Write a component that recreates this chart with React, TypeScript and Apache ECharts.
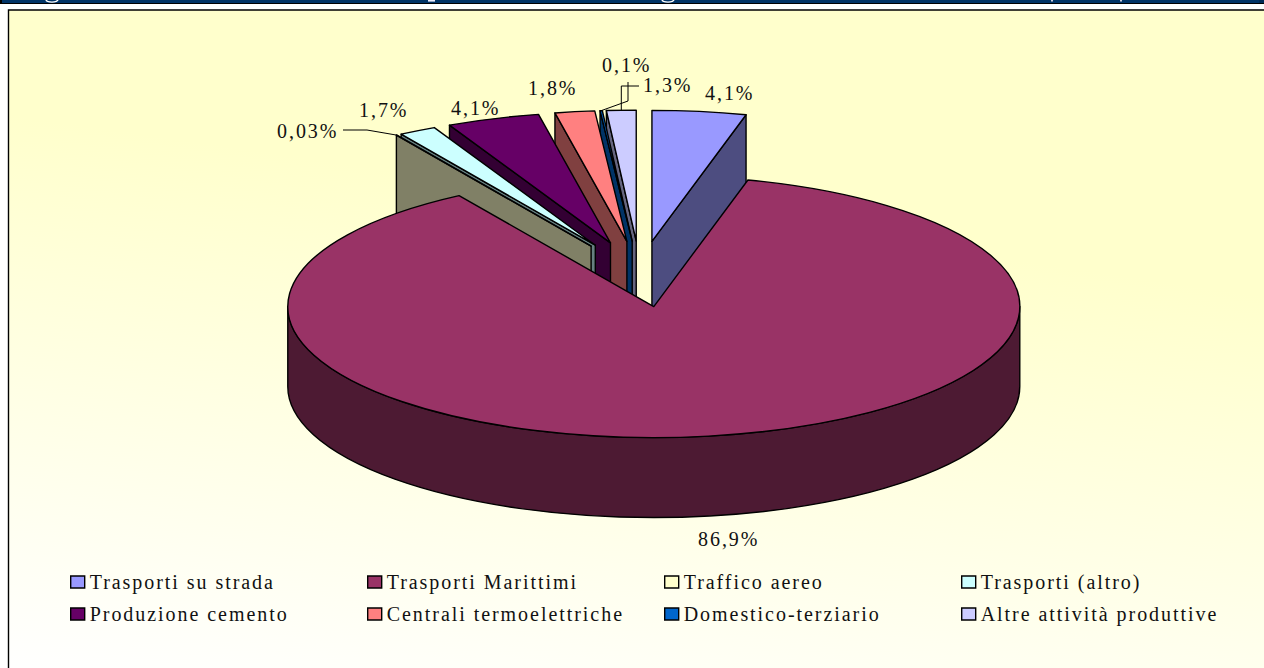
import React, { useEffect, useRef } from "react";
import * as echarts from "echarts";

const categories = [
  "Trasporti su strada",
  "Trasporti Marittimi",
  "Traffico aereo",
  "Trasporti (altro)",
  "Produzione cemento",
  "Centrali termoelettriche",
  "Domestico-terziario",
  "Altre attività produttive",
];
// The printed labels are the rounded figures.
const values = [4.14, 86.94, 0.03, 1.65, 4.1, 1.75, 0.1, 1.3];
const valueLabels = ["4,1%", "86,9%", "0,03%", "1,7%", "4,1%", "1,8%", "0,1%", "1,3%"];

const topColors = ["#9999FF", "#993366", "#FFFFCC", "#CCFFFF", "#660066", "#FF8080", "#0066CC", "#CCCCFF"];
const sideColors = ["#4D4D80", "#4D1A33", "#808066", "#668080", "#330033", "#804040", "#003366", "#666680"];

// Back-most slices are painted first, the big front slice last.
const paintOrder = [7, 6, 5, 4, 3, 2, 0, 1];

// Pie projection
const CX = 640;
const CY = 274;
const RX = 366;
const RY = 131;
const DEPTH = 80;
const EXPLODE = 92;
const EDGE = 1.4;

const labelLayout = [
  { x: 705, y: 93 },
  { x: 698, y: 539 },
  { x: 277, y: 131 },
  { x: 359, y: 110 },
  { x: 451, y: 108 },
  { x: 528, y: 88 },
  { x: 602, y: 65 },
  { x: 643, y: 85 },
];

const legendColumns = [
  { x: 70, names: [categories[0], categories[4]] },
  { x: 367, names: [categories[1], categories[5]] },
  { x: 664, names: [categories[2], categories[6]] },
  { x: 961, names: [categories[3], categories[7]] },
];

const FONT = '"Liberation Serif", "Times New Roman", serif';
const FONT_SIZE = 20;

const total = values.reduce((a, b) => a + b, 0);
const rad = (d: number) => (d * Math.PI) / 180;

function startAngleOf(i: number) {
  let s = 0;
  for (let k = 0; k < i; k++) s += values[k];
  return (s / total) * 360;
}

function makeRenderItem(i: number) {
  return (_params: any, api: any) => {
    const a0 = startAngleOf(i);
    const a1 = a0 + (api.value(0) / total) * 360;
    const mid = (a0 + a1) / 2;
    const ax = CX + EXPLODE * Math.sin(rad(mid));
    const ay = CY - (EXPLODE * RY * Math.cos(rad(mid))) / RX;
    const pt = (t: number, dz = 0): [number, number] => [
      ax + RX * Math.sin(rad(t)),
      ay - RY * Math.cos(rad(t)) + dz,
    ];
    const f = (p: [number, number]) => `${p[0].toFixed(2)} ${p[1].toFixed(2)}`;
    const arc = (from: number, to: number, dz: number, reverse: boolean) => {
      const large = Math.abs(to - from) > 180 ? 1 : 0;
      return `A ${RX} ${RY} 0 ${large} ${reverse ? 0 : 1} ${f(pt(to, dz))}`;
    };
    const faceStyle = { fill: sideColors[i], stroke: "#000", lineWidth: EDGE, lineJoin: "round" };
    const children: any[] = [];
    const face = (t: number) => ({
      type: "path",
      shape: {
        pathData: `M ${f([ax, ay])} L ${f(pt(t))} L ${f(pt(t, DEPTH))} L ${f([ax, ay + DEPTH])} Z`,
      },
      style: faceStyle,
      silent: true,
    });
    if (Math.sin(rad(a0)) < -1e-6) children.push(face(a0));
    if (Math.sin(rad(a1)) > 1e-6) children.push(face(a1));
    const w0 = Math.max(a0, 90);
    const w1 = Math.min(a1, 270);
    if (w1 > w0) {
      children.push({
        type: "path",
        shape: {
          pathData: `M ${f(pt(w0))} ${arc(w0, w1, 0, false)} L ${f(pt(w1, DEPTH))} ${arc(w1, w0, DEPTH, true)} Z`,
        },
        style: faceStyle,
        silent: true,
      });
    }
    children.push({
      type: "path",
      shape: { pathData: `M ${f([ax, ay])} L ${f(pt(a0))} ${arc(a0, a1, 0, false)} Z` },
      style: { fill: topColors[i], stroke: "#000", lineWidth: EDGE, lineJoin: "round" },
      silent: true,
    });

    // Leader lines of the labels that sit away from their slice
    const tip = pt(mid);
    let leader: number[][] | null = null;
    if (i === 2) leader = [[343, 130], [367, 130], tip];
    if (i === 6) leader = [[628, 82], [628, 101], tip];
    if (i === 7) leader = [[639, 86], [tip[0], 86], tip];
    if (leader) {
      children.push({
        type: "polyline",
        shape: { points: leader },
        style: { fill: "none", stroke: "#000", lineWidth: 1 },
        silent: true,
      });
    }

    children.push({
      type: "text",
      x: labelLayout[i].x,
      y: labelLayout[i].y,
      style: {
        text: valueLabels[i],
        fill: "#111",
        font: `${FONT_SIZE}px ${FONT}`,
        align: "left",
        verticalAlign: "middle",
      },
      silent: true,
    });
    return { type: "group", children };
  };
}

export default function App() {
  const ref = useRef<HTMLDivElement>(null);
  useEffect(() => {
    const chart = echarts.init(ref.current!, undefined, { renderer: "svg" });
    chart.setOption({
      animation: false,
      backgroundColor: "#fff",
      tooltip: { show: false },
      graphic: [
        { type: "rect", z: -10, silent: true, shape: { x: 0, y: 0, width: 1264, height: 3 }, style: { fill: "#003366" } },
        { type: "rect", z: -10, silent: true, shape: { x: 0, y: 3, width: 1264, height: 1 }, style: { fill: "#000" } },
        { type: "rect", z: -9, silent: true, shape: { x: 0, y: 0, width: 2, height: 4 }, style: { fill: "#000" } },
        { type: "rect", z: -9, silent: true, shape: { x: 1259, y: 0, width: 5, height: 3 }, style: { fill: "#002a55" } },
        // Clipped title descenders at the top edge of the crop
        { type: "ellipse", z: -8, silent: true, shape: { cx: 52, cy: -0.5, rx: 6, ry: 2.6 }, style: { fill: "none", stroke: "#fff", lineWidth: 1.4 } },
        { type: "rect", z: -8, silent: true, shape: { x: 428, y: 0, width: 7, height: 1.6 }, style: { fill: "#eef" } },
        { type: "ellipse", z: -8, silent: true, shape: { cx: 668, cy: -0.5, rx: 6, ry: 2.6 }, style: { fill: "none", stroke: "#fff", lineWidth: 1.4 } },
        { type: "rect", z: -8, silent: true, shape: { x: 1051, y: 0, width: 2, height: 1.5 }, style: { fill: "#ccd" } },
        { type: "rect", z: -8, silent: true, shape: { x: 1120, y: 0, width: 2, height: 1.5 }, style: { fill: "#ccd" } },
        {
          type: "rect",
          z: -10,
          silent: true,
          shape: { x: 8.5, y: 10, width: 1262, height: 665 },
          style: {
            fill: new echarts.graphic.LinearGradient(0, 1, 0.215, 0.216, [
              { offset: 0, color: "#FFFFFF" },
              { offset: 1, color: "#FFFFCC" },
            ]),
            stroke: "#000",
            lineWidth: 1.4,
          },
        },
      ],
      legend: legendColumns.map((c) => ({
        orient: "vertical",
        left: c.x,
        top: 572,
        padding: 0,
        itemGap: 12,
        itemWidth: 14,
        itemHeight: 12,
        icon: "rect",
        selectedMode: false,
        data: c.names,
        itemStyle: { borderColor: "#000", borderWidth: 1.4 },
        textStyle: { fontFamily: FONT, fontSize: FONT_SIZE, color: "#111" },
      })),
      series: paintOrder.map((i) => ({
        type: "custom",
        name: categories[i],
        coordinateSystem: "none",
        silent: true,
        itemStyle: { color: topColors[i] },
        data: [[values[i]]],
        renderItem: makeRenderItem(i),
      })),
    });
    return () => chart.dispose();
  }, []);
  return (
    <div
      ref={ref}
      style={{ position: "absolute", left: 0, top: 0, width: 1264, height: 668, letterSpacing: "1.95px" }}
    />
  );
}
